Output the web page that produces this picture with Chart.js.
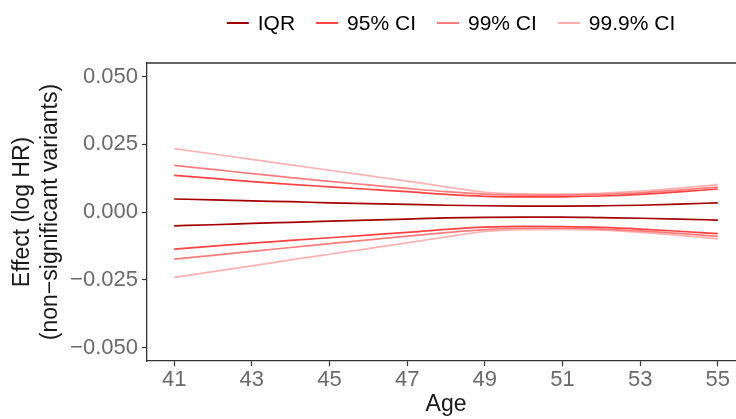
<!DOCTYPE html>
<html>
<head>
<meta charset="utf-8">
<title>Effect by age</title>
<script src="https://cdn.jsdelivr.net/npm/chart.js@4/dist/chart.umd.min.js"></script>
<style>
  html, body { margin: 0; padding: 0; background: #fff; overflow: hidden; }
  #wrap { width: 746px; height: 419px; }
</style>
</head>
<body>
<div id="wrap"><canvas id="effectChart" width="746" height="419"></canvas></div>
<script>
// ages on the x axis and the tick labels we want shown
const ages = [41, 42, 43, 44, 45, 46, 47, 48, 49, 50, 51, 52, 53, 54, 55];
const xTicks = [41, 43, 45, 47, 49, 51, 53, 55];
const yTicks = [-0.05, -0.025, 0, 0.025, 0.05];

const bandNames = ['IQR', '95% CI', '99% CI', '99.9% CI'];
const bandColors = ['#a50000', '#ff4242', '#ff7c7c', '#ffb2b2'];

// upper / lower edge of every band (log HR)
const iqrHigh = [0.0048, 0.0045, 0.0041, 0.0038, 0.0034, 0.0031, 0.0028, 0.0025, 0.0023, 0.0022, 0.0022, 0.0023, 0.0025, 0.0029, 0.0034];
const iqrLow  = [-0.0051, -0.0047, -0.0042, -0.0038, -0.0034, -0.0030, -0.0026, -0.0022, -0.0020, -0.0019, -0.0019, -0.0021, -0.0023, -0.0026, -0.0030];

const ci95High = [0.0135, 0.0124, 0.0112, 0.0102, 0.0093, 0.0084, 0.0075, 0.0065, 0.0058, 0.0056, 0.0056, 0.0059, 0.0065, 0.0074, 0.0085];
const ci95Low  = [-0.0137, -0.0126, -0.0115, -0.0105, -0.0095, -0.0085, -0.0075, -0.0064, -0.0056, -0.0053, -0.0054, -0.0057, -0.0063, -0.0071, -0.0080];

const ci99High = [0.0172, 0.0157, 0.0142, 0.0127, 0.0113, 0.0100, 0.0087, 0.0075, 0.0066, 0.0062, 0.0062, 0.0065, 0.0071, 0.0081, 0.0092];
const ci99Low  = [-0.0174, -0.0160, -0.0145, -0.0131, -0.0117, -0.0103, -0.0089, -0.0076, -0.0065, -0.0060, -0.0060, -0.0063, -0.0070, -0.0079, -0.0090];

const ci999High = [0.0234, 0.0214, 0.0194, 0.0174, 0.0154, 0.0134, 0.0114, 0.0093, 0.0073, 0.0067, 0.0066, 0.0069, 0.0077, 0.0088, 0.0101];
const ci999Low  = [-0.0241, -0.0220, -0.0199, -0.0177, -0.0156, -0.0135, -0.0114, -0.0092, -0.0072, -0.0065, -0.0064, -0.0067, -0.0075, -0.0086, -0.0099];

const FONT = '"Liberation Sans", Arial, Helvetica, sans-serif';

function bandLine(idx, values) {
  return {
    label: bandNames[idx],
    data: values.map((v, i) => ({ x: ages[i], y: v })),
    borderColor: bandColors[idx],
    borderWidth: 1.7,
    pointRadius: 0,
    fill: false,
    cubicInterpolationMode: 'monotone',
    band: idx
  };
}

function fmtEffect(v) {
  if (v === 0) return '0.000';
  return (v < 0 ? '\u2212' : '') + Math.abs(v).toFixed(3);
}

// legend drawn by hand so it sits centred above the panel, ggplot style
const topLegend = {
  id: 'topLegend',
  afterDraw(chart) {
    const ctx = chart.ctx;
    const area = chart.chartArea;
    const keyW = 22, keyGap = 9, itemGap = 21, y = 23;
    ctx.save();
    ctx.font = '21px ' + FONT;
    let total = 0;
    const widths = bandNames.map(n => ctx.measureText(n).width);
    widths.forEach(w => { total += keyW + keyGap + w; });
    total += itemGap * (bandNames.length - 1);
    let x = (area.left + area.right) / 2 - total / 2 + 5;
    ctx.textBaseline = 'middle';
    bandNames.forEach((name, i) => {
      ctx.strokeStyle = bandColors[i];
      ctx.lineWidth = 2;
      ctx.beginPath();
      ctx.moveTo(x, y);
      ctx.lineTo(x + keyW, y);
      ctx.stroke();
      ctx.fillStyle = '#000';
      ctx.fillText(name, x + keyW + keyGap, y + 1);
      x += keyW + keyGap + widths[i] + itemGap;
    });
    ctx.restore();
  }
};

// top edge of the panel box
const panelTop = {
  id: 'panelTop',
  afterDraw(chart) {
    const ctx = chart.ctx;
    const a = chart.chartArea;
    ctx.save();
    ctx.strokeStyle = '#333';
    ctx.lineWidth = 1.3;
    ctx.beginPath();
    ctx.moveTo(a.left, a.top);
    ctx.lineTo(a.right + 5, a.top);
    ctx.stroke();
    ctx.restore();
  }
};

const datasets = [
  bandLine(0, iqrHigh), bandLine(0, iqrLow),
  bandLine(1, ci95High), bandLine(1, ci95Low),
  bandLine(2, ci99High), bandLine(2, ci99Low),
  bandLine(3, ci999High), bandLine(3, ci999Low)
];

new Chart(document.getElementById('effectChart'), {
  type: 'line',
  data: { datasets: datasets },
  plugins: [topLegend, panelTop],
  options: {
    responsive: false,
    animation: false,
    devicePixelRatio: 1,
    layout: { padding: { top: 63, right: 1, left: 0, bottom: 0 } },
    plugins: {
      legend: { display: false },
      tooltip: { enabled: false }
    },
    scales: {
      x: {
        type: 'linear',
        min: 40.3,
        max: 55.7,
        afterBuildTicks: axis => { axis.ticks = xTicks.map(v => ({ value: v })); },
        afterFit: scale => { scale.height = 58; },
        grid: { drawOnChartArea: false, drawTicks: true, tickLength: 5, tickColor: '#333', tickWidth: 1.2 },
        border: { display: true, color: '#333', width: 1.3 },
        ticks: { color: '#6b6b6b', font: { family: FONT, size: 22 }, padding: 1, maxRotation: 0 },
        title: { display: true, text: 'Age', color: '#1a1a1a', font: { family: FONT, size: 23 }, padding: { top: 0, bottom: 1 } }
      },
      y: {
        min: -0.055,
        max: 0.055,
        afterBuildTicks: axis => { axis.ticks = yTicks.map(v => ({ value: v })); },
        afterFit: scale => { scale.width = 147; },
        grid: { drawOnChartArea: false, drawTicks: true, tickLength: 5, tickColor: '#333', tickWidth: 1.2 },
        border: { display: true, color: '#333', width: 1.3 },
        ticks: { color: '#6b6b6b', font: { family: FONT, size: 22 }, padding: 4, callback: v => fmtEffect(v) },
        title: {
          display: true,
          text: ['Effect (log HR)', '(non\u2212significant variants)'],
          color: '#1a1a1a',
          font: { family: FONT, size: 23, lineHeight: 1.2 },
          padding: { top: 9, bottom: 0 }
        }
      }
    }
  }
});
</script>
</body>
</html>
